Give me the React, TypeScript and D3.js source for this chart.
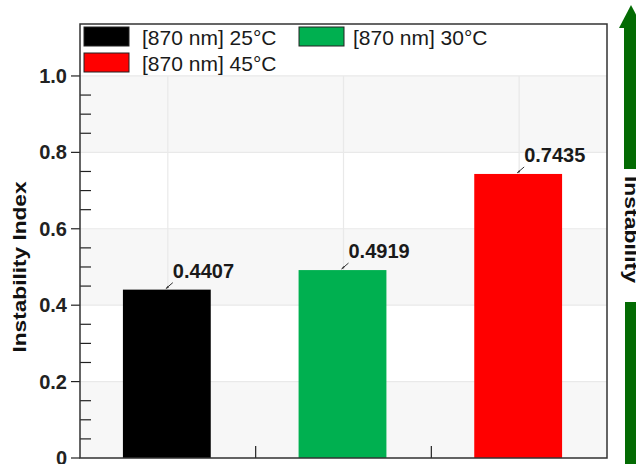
import React from "react";
import * as d3 from "d3";

const categories = ["[870 nm] 25°C", "[870 nm] 30°C", "[870 nm] 45°C"];
const values = [0.4407, 0.4919, 0.7435];
const valueLabels = ["0.4407", "0.4919", "0.7435"];
const colors = ["#000000", "#00b050", "#ff0000"];
const yMajorTicks = [0, 0.2, 0.4, 0.6, 0.8, 1.0];
const yTickLabels = ["0", "0.2", "0.4", "0.6", "0.8", "1.0"];
const yTitle = "Instability Index";
const arrowText = "Instability";

const W = 636;
const H = 464;
const M = { left: 80, right: 607, top: 24, bottom: 458 };

export default function App() {
  const x = d3
    .scaleBand<string>()
    .domain(categories)
    .range([M.left, M.right])
    .paddingInner(0.5)
    .paddingOuter(0.25);
  const y = d3.scaleLinear().domain([0, 1.136]).range([M.bottom, M.top]);

  const minorTicks = d3.range(0, 1.0001, 0.05).filter((v) => Math.abs(v * 5 - Math.round(v * 5)) > 1e-6);
  const step = x.step();
  const boundaries = categories.slice(1).map((c) => (x(c) as number) - (step - x.bandwidth()) / 2);

  const bandEdges = [0, 0.2, 0.4, 0.6, 0.8, 1.0, 1.136];
  const font = "'Liberation Sans', Arial, sans-serif";

  const legendItems = [
    { i: 0, sx: 84, sy: 27, tx: 142 },
    { i: 1, sx: 299, sy: 27, tx: 353 },
    { i: 2, sx: 84, sy: 53, tx: 142 },
  ];

  return (
    <svg
      width={W}
      height={H}
      style={{ position: "fixed", top: 0, left: 0, background: "#fff" }}
      fontFamily={font}
    >
      {bandEdges.slice(0, -1).map((v, k) => (
        <rect
          key={"band" + k}
          x={M.left}
          width={M.right - M.left}
          y={y(bandEdges[k + 1])}
          height={y(v) - y(bandEdges[k + 1])}
          fill={k % 2 === 0 ? "#f7f7f7" : "#ffffff"}
        />
      ))}
      {yMajorTicks.map((t) => (
        <line key={"gh" + t} x1={M.left} x2={M.right} y1={y(t)} y2={y(t)} stroke="#e9e9e9" strokeWidth={1.2} />
      ))}
      {categories.map((c) => (
        <line
          key={"gv" + c}
          x1={(x(c) as number) + x.bandwidth() / 2}
          x2={(x(c) as number) + x.bandwidth() / 2}
          y1={y(1.0)}
          y2={M.bottom}
          stroke="#e9e9e9"
          strokeWidth={1.2}
        />
      ))}
      {categories.map((c, i) => (
        <rect
          key={"bar" + c}
          x={(x(c) as number) - 1}
          width={x.bandwidth()}
          y={y(values[i])}
          height={y(0) - y(values[i])}
          fill={colors[i]}
        />
      ))}
      {categories.map((c, i) => {
        const cx = (x(c) as number) + x.bandwidth() / 2 - 1;
        const top = y(values[i]);
        return (
          <g key={"lab" + c}>
            <line x1={cx + 6} y1={top - 7} x2={cx - 1} y2={top - 1} stroke="#333" strokeWidth={1} />
            <path d={`M${cx - 1},${top - 1} l3,-1 l-1,-2 z`} fill="#333" />
            <text x={cx + 6} y={top - 12} fontSize={20} fontWeight="bold" fill="#1a1a1a">
              {valueLabels[i]}
            </text>
          </g>
        );
      })}
      {boundaries.map((b, k) => (
        <line key={"xb" + k} x1={b} x2={b} y1={M.bottom} y2={M.bottom - 12} stroke="#222" strokeWidth={1.2} />
      ))}
      {minorTicks.map((t) => (
        <line key={"mt" + t} x1={M.left} x2={M.left + 11} y1={y(t)} y2={y(t)} stroke="#222" strokeWidth={1.2} />
      ))}
      {yMajorTicks.map((t, k) => (
        <g key={"yt" + t}>
          <line x1={M.left - 9} x2={M.left} y1={y(t)} y2={y(t)} stroke="#222" strokeWidth={1.2} />
          <text
            x={M.left - 13}
            y={y(t)}
            textAnchor="end"
            dominantBaseline="central"
            fontSize={20}
            fontWeight="bold"
            fill="#222"
          >
            {yTickLabels[k]}
          </text>
        </g>
      ))}
      <rect
        x={M.left}
        y={M.top}
        width={M.right - M.left}
        height={M.bottom - M.top}
        fill="none"
        stroke="#333"
        strokeWidth={1.5}
      />
      {legendItems.map(({ i, sx, sy, tx }) => (
        <g key={"lg" + i}>
          <rect x={sx} y={sy} width={45} height={19} fill={colors[i]} stroke="#222" strokeWidth={1} />
          <text x={tx} y={sy + 18} fontSize={21} fill="#1a1a1a">
            {categories[i]}
          </text>
        </g>
      ))}
      <text
        transform={`translate(26, 267) rotate(-90)`}
        textAnchor="middle"
        fontSize={19}
        fontWeight="bold"
        fill="#111"
        textLength={171}
        lengthAdjust="spacingAndGlyphs"
      >
        {yTitle}
      </text>
      <path d="M624,28 L638,28 L638,169 L624,169 Z" fill="#036b03" />
      <path d="M619,28 L631,5 L643,28 Z" fill="#036b03" />
      <path d="M625,302 L638,302 L638,464 L625,464 Z" fill="#036b03" />
      <text
        transform={`translate(625, 229.5) rotate(90)`}
        textAnchor="middle"
        fontSize={19}
        fontWeight="bold"
        fill="#111"
        textLength={107}
        lengthAdjust="spacingAndGlyphs"
      >
        {arrowText}
      </text>
    </svg>
  );
}
